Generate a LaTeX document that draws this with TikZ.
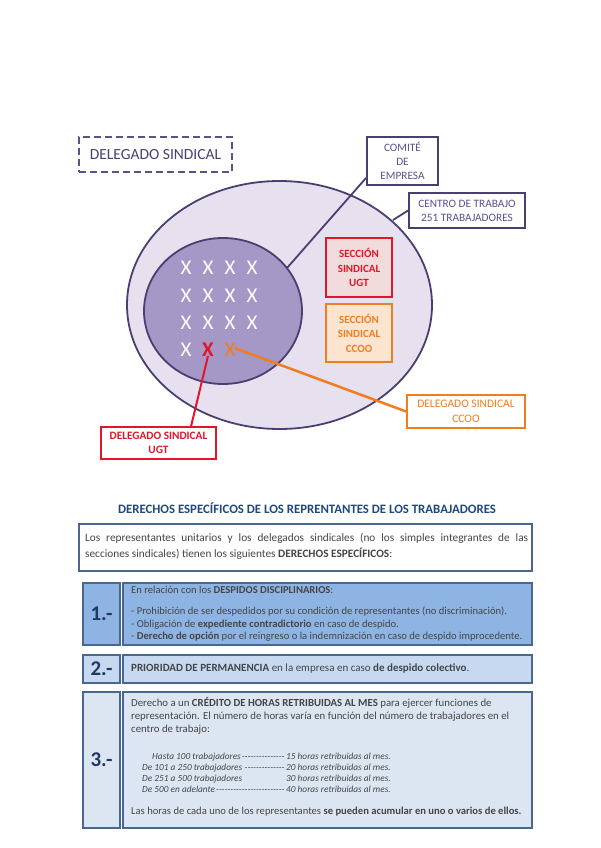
\documentclass[tikz,border=0pt]{standalone}
\usepackage{fontspec}
\setmainfont{Carlito}
\usetikzlibrary{shapes.geometric}
\definecolor{pdark}{HTML}{4B3F72}
\definecolor{pmid}{HTML}{5E4E8E}
\definecolor{pfill}{HTML}{E6E0EF}
\definecolor{pinner}{HTML}{A597C6}
\definecolor{ured}{HTML}{E0162B}
\definecolor{ufill}{HTML}{F2DCDB}
\definecolor{corange}{HTML}{F07D1F}
\definecolor{cfill}{HTML}{FBE5D0}
\definecolor{tblue}{HTML}{1F497D}
\definecolor{bblue}{HTML}{4A6790}
\definecolor{numblue}{HTML}{1F3864}
\definecolor{fone}{HTML}{8EB4E3}
\definecolor{ftwo}{HTML}{C6D9F1}
\definecolor{fthree}{HTML}{DCE6F2}
\definecolor{txt}{HTML}{454545}
\tikzset{
  purplebox/.style={draw=pdark, line width=1.8pt, fill=white, text=pmid, align=center, inner sep=0pt, font=\fontsize{11.3}{14}\selectfont},
  redbox/.style={draw=ured, line width=1.8pt, text=ured, align=center, inner sep=0pt, font=\fontsize{11}{14.5}\selectfont\bfseries},
  orangebox/.style={draw=corange, line width=1.8pt, text=corange, align=center, inner sep=0pt, font=\fontsize{11.5}{14.5}\selectfont},
  xmark/.style={text=white, font=\fontsize{21}{21}\selectfont, inner sep=0pt},
  numbox/.style={draw=bblue, line width=1.5pt, text=numblue, font=\fontsize{21}{21}\selectfont\bfseries, inner sep=0pt},
  contbox/.style={draw=bblue, line width=1.5pt, inner sep=0pt},
  bodytext/.style={text=txt, align=left, inner sep=0pt, anchor=north west},
}
\begin{document}
\begin{tikzpicture}[x=1pt,y=-1pt]
\useasboundingbox[fill=white] (0,0) rectangle (600,848);

% top title box
\node[draw=pmid, line width=1.8pt, dash pattern=on 7pt off 4pt, text=pdark,
      minimum width=153pt, minimum height=35pt, inner sep=0pt, font=\fontsize{15.5}{17}\selectfont]
      (title) at (155.5,154.5) {DELEGADO SINDICAL};

% ellipses
\node[draw=pdark, line width=1.8pt, fill=pfill, ellipse, minimum width=305pt, minimum height=248pt, inner sep=0pt] (big) at (279.5,305) {};
\node[draw=pdark, line width=1.8pt, fill=pinner, ellipse, minimum width=158pt, minimum height=146pt, inner sep=0pt] (inner) at (223,311) {};

% X marks
\foreach \yy in {268,296,323} {
  \foreach \xx in {186,208,230,252} {
    \node[xmark] at (\xx,\yy) {X};
  }
}
\node[xmark] (x1) at (186,350) {X};
\node[xmark, text=ured, font=\fontsize{21}{21}\selectfont\bfseries] (xred) at (208,350) {X};
\node[xmark, text=corange] (xor) at (230,350) {X};

% labels boxes
\node[purplebox, minimum width=71pt, minimum height=48pt] (com) at (402.5,161) {COMITÉ\\DE\\EMPRESA};
\node[purplebox, minimum width=116pt, minimum height=35pt] (cen) at (467,210.5) {CENTRO DE TRABAJO\\251 TRABAJADORES};

\node[redbox, fill=ufill, minimum width=66pt, minimum height=59pt] (secu) at (359,267.5) {SECCIÓN\\SINDICAL\\UGT};
\node[orangebox, fill=cfill, minimum width=66pt, minimum height=58pt, font=\fontsize{11}{14.5}\selectfont\bfseries] (secc) at (359,333) {SECCIÓN\\SINDICAL\\CCOO};

\node[orangebox, fill=white, minimum width=118pt, minimum height=33pt] (delc) at (466,411.5) {DELEGADO SINDICAL\\CCOO};
\node[redbox, fill=white, minimum width=115pt, minimum height=32pt, font=\fontsize{11.3}{14}\selectfont\bfseries] (delu) at (158.5,443) {DELEGADO SINDICAL\\UGT};

% connectors
\coordinate (comend) at (287,268);
\coordinate (cenend) at (393,220);
\draw[pdark, line width=1.8pt] ([yshift=8pt]com.south west) -- (comend);
\draw[pdark, line width=1.8pt] (cen.west) -- (cenend);
\draw[corange, line width=2.5pt] (delc.west) -- ([xshift=-1pt,yshift=2pt]xor.east);
\draw[ured, line width=2pt] ([xshift=91pt]delu.north west) -- ([yshift=1pt]xred.south);

% second part
\node[text=tblue, font=\fontsize{12.8}{14}\selectfont\bfseries, inner sep=0pt] (head) at (307,508) {DERECHOS ESPECÍFICOS DE LOS REPRENTANTES DE LOS TRABAJADORES};

\node[draw=bblue, line width=1.5pt, fill=white, minimum width=453pt, minimum height=47pt, inner sep=0pt] (intro) at (305.5,547.5) {};
\node[text=txt, text width=443pt, align=justify, inner sep=0pt, font=\fontsize{11.3}{15.5}\selectfont, anchor=north west] (introtxt) at (85,533.5)
 {Los representantes unitarios y los delegados sindicales (no los simples integrantes de las\linebreak secciones sindicales) tienen los siguientes \textbf{DERECHOS ESPECÍFICOS}:};

% box 1
\node[numbox, fill=fone, minimum width=37pt, minimum height=62pt] (n1) at (101.5,614) {1.-};
\node[contbox, fill=fone, minimum width=409pt, minimum height=62pt] (c1) at (327.5,614) {};
\node[bodytext, font=\fontsize{10.6}{12.5}\selectfont] (t1) at (131,585.5)
 {En relación con los \textbf{DESPIDOS DISCIPLINARIOS}:\\[9pt]
  - Prohibición de ser despedidos por su condición de representantes (no discriminación).\\
  - Obligación de \textbf{expediente contradictorio} en caso de despido.\\
  - \textbf{Derecho de opción} por el reingreso o la indemnización en caso de despido improcedente.};

% box 2
\node[numbox, fill=ftwo, minimum width=37pt, minimum height=28pt] (n2) at (101.5,669) {2.-};
\node[contbox, fill=ftwo, minimum width=409pt, minimum height=28pt] (c2) at (327.5,669) {};
\node[bodytext, anchor=west, font=\fontsize{11}{12}\selectfont] (t2) at (131,669)
 {\textbf{PRIORIDAD DE PERMANENCIA} en la empresa en caso \textbf{de despido colectivo}.};

% box 3
\node[numbox, fill=fthree, minimum width=37pt, minimum height=136pt] (n3) at (101.5,760) {3.-};
\node[contbox, fill=fthree, minimum width=409pt, minimum height=136pt] (c3) at (327.5,760) {};
\node[bodytext, font=\fontsize{10.8}{13}\selectfont] (t3) at (131,697.5)
 {Derecho a un \textbf{CRÉDITO DE HORAS RETRIBUIDAS AL MES} para ejercer funciones de\\
  representación. El número de horas varía en función del número de trabajadores en el\\
  centro de trabajo:};
\node[bodytext, font=\fontsize{9.3}{11}\selectfont\itshape] (tab) at (142,752.5)
 {\makebox[144pt][l]{\hspace{10pt}Hasta 100 trabajadores\leaders\hbox{-}\hfill}15 horas retribuidas al mes.\\
  \makebox[144pt][l]{De 101 a 250 trabajadores\leaders\hbox{-}\hfill}20 horas retribuidas al mes.\\
  \makebox[144pt][l]{De 251 a 500 trabajadores\hfill}30 horas retribuidas al mes.\\
  \makebox[144pt][l]{De 500 en adelante\leaders\hbox{-}\hfill}40 horas retribuidas al mes.};
\node[bodytext, font=\fontsize{10.6}{12}\selectfont] (t4) at (131,807)
 {Las horas de cada uno de los representantes \textbf{se pueden acumular en uno o varios de ellos.}};
\end{tikzpicture}
\end{document}
